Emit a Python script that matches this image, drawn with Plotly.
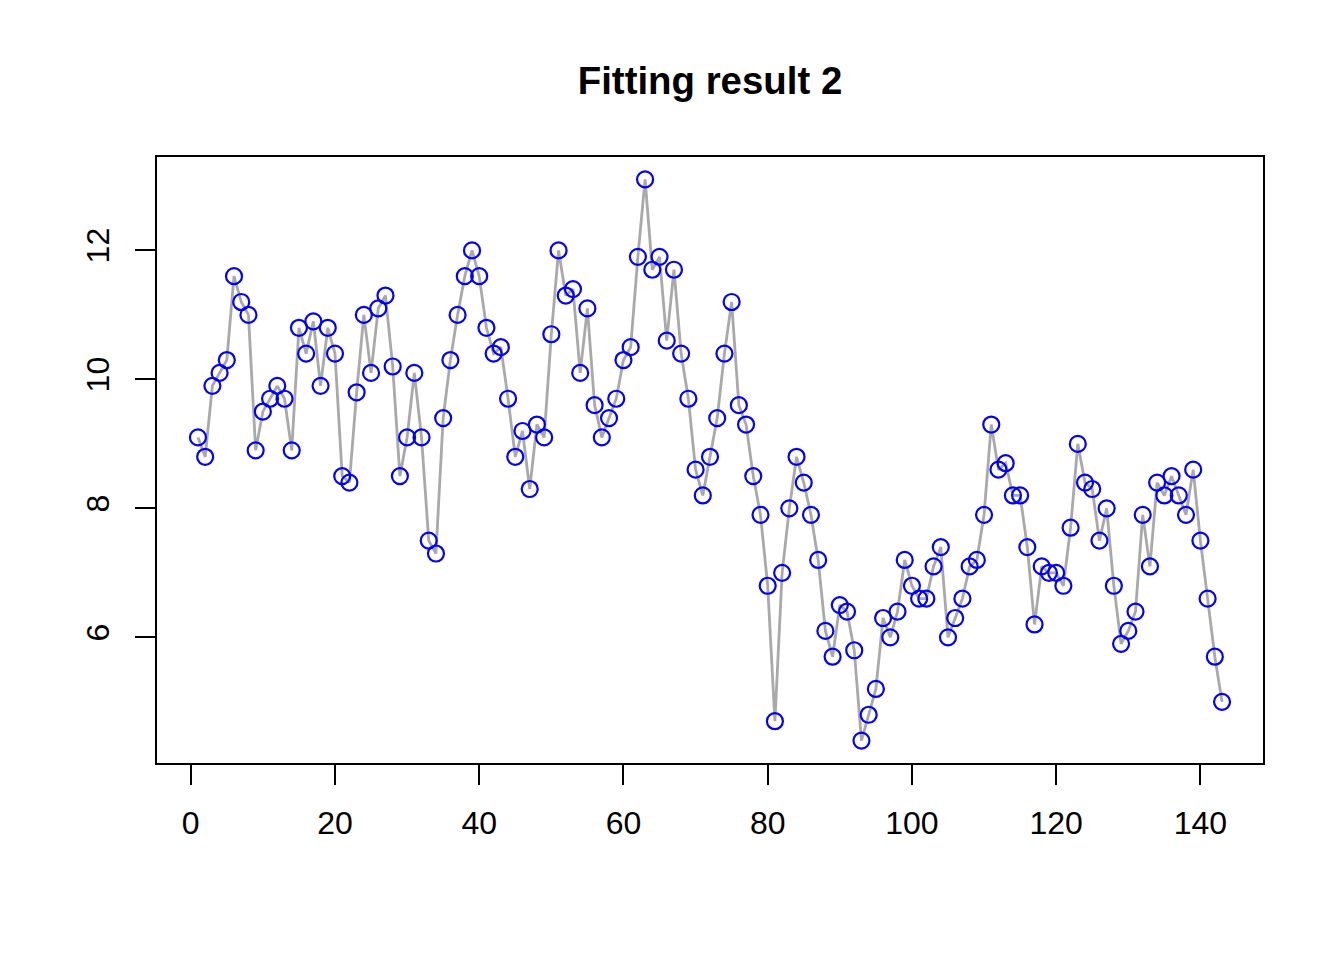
import plotly.graph_objects as go

# Data
values = [9.1, 8.8, 9.9, 10.1, 10.3, 11.6, 11.2, 11.0, 8.9, 9.5,
          9.7, 9.9, 9.7, 8.9, 10.8, 10.4, 10.9, 9.9, 10.8, 10.4,
          8.5, 8.4, 9.8, 11.0, 10.1, 11.1, 11.3, 10.2, 8.5, 9.1,
          10.1, 9.1, 7.5, 7.3, 9.4, 10.3, 11.0, 11.6, 12.0, 11.6,
          10.8, 10.4, 10.5, 9.7, 8.8, 9.2, 8.3, 9.3, 9.1, 10.7,
          12.0, 11.3, 11.4, 10.1, 11.1, 9.6, 9.1, 9.4, 9.7, 10.3,
          10.5, 11.9, 13.1, 11.7, 11.9, 10.6, 11.7, 10.4, 9.7, 8.6,
          8.2, 8.8, 9.4, 10.4, 11.2, 9.6, 9.3, 8.5, 7.9, 6.8,
          4.7, 7.0, 8.0, 8.8, 8.4, 7.9, 7.2, 6.1, 5.7, 6.5,
          6.4, 5.8, 4.4, 4.8, 5.2, 6.3, 6.0, 6.4, 7.2, 6.8,
          6.6, 6.6, 7.1, 7.4, 6.0, 6.3, 6.6, 7.1, 7.2, 7.9,
          9.3, 8.6, 8.7, 8.2, 8.2, 7.4, 6.2, 7.1, 7.0, 7.0,
          6.8, 7.7, 9.0, 8.4, 8.3, 7.5, 8.0, 6.8, 5.9, 6.1,
          6.4, 7.9, 7.1, 8.4, 8.2, 8.5, 8.2, 7.9, 8.6, 7.5,
          6.6, 5.7, 5.0]
index = list(range(1, len(values) + 1))

x_ticks = [0, 20, 40, 60, 80, 100, 120, 140]
y_ticks = [6, 8, 10, 12]

# R style 4% padding
def pad(lo, hi):
    d = (hi - lo) * 0.04
    return [lo - d, hi + d]

font = "Liberation Sans, Arial, sans-serif"

fig = go.Figure()
fig.add_trace(go.Scatter(x=index, y=values, mode="lines",
                         line=dict(color="#A9A9A9", width=2.8),
                         hoverinfo="skip"))
fig.add_trace(go.Scatter(x=index, y=values, mode="markers",
                         marker=dict(symbol="circle-open", size=16, color="#0000FF",
                                     line=dict(width=2.2, color="#0000FF"))))

# page has an 8px body margin, so margins are shifted to land the box where R put it
fig.update_layout(
    width=1344, height=960,
    margin=dict(l=149, r=89, t=149, b=205),
    paper_bgcolor="white", plot_bgcolor="white",
    showlegend=False,
    font=dict(family=font, size=32, color="black"),
    title=dict(text="<b>Fitting result 2</b>", x=(149 + 1255) / 2 / 1344, xanchor="center",
               y=1 - 73 / 960, yanchor="middle",
               font=dict(family=font, size=38.4, color="black")),
)
fig.update_xaxes(range=pad(min(index), max(index)), tickvals=x_ticks,
                 showgrid=False, zeroline=False,
                 showline=True, mirror=True, linecolor="black", linewidth=2,
                 ticks="outside", ticklen=20, tickwidth=2, tickcolor="black",
                 ticklabelstandoff=11,
                 tickfont=dict(family=font, size=32, color="black"))
fig.update_yaxes(range=pad(min(values), max(values)), tickvals=y_ticks,
                 showgrid=False, zeroline=False,
                 showline=True, mirror=True, linecolor="black", linewidth=2,
                 ticks="outside", ticklen=20, tickwidth=2, tickcolor="black",
                 tickangle=-90, ticklabelstandoff=13,
                 tickfont=dict(family=font, size=32, color="black"))

fig.write_html("out.html")
